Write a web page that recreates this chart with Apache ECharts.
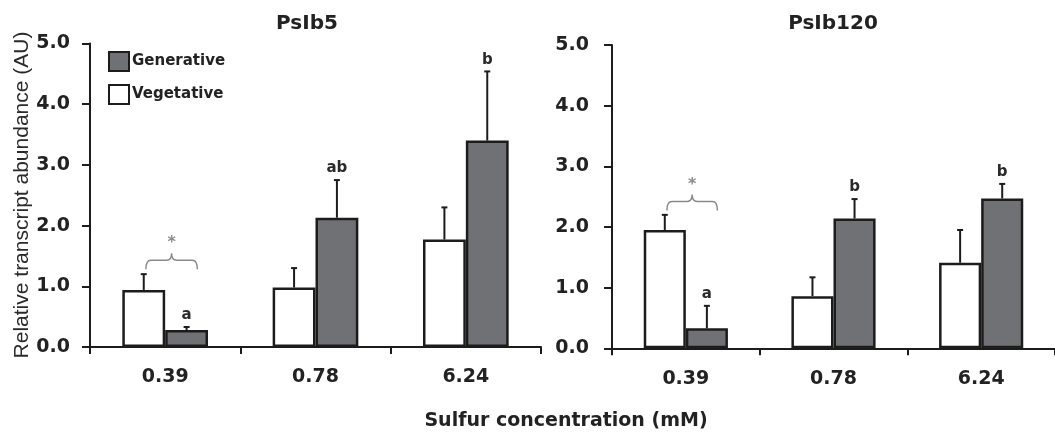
<!DOCTYPE html>
<html>
<head>
<meta charset="utf-8">
<script src="https://cdn.jsdelivr.net/npm/echarts@6/dist/echarts.min.js"></script>
<style>html,body{margin:0;padding:0;background:#fff;}#c{width:1055px;height:434px;}</style>
</head>
<body>
<div id="c"></div>
<script>
// ---- data ----
const categories = ['0.39', '0.78', '6.24'];
const panelTitles = ['PsIb5', 'PsIb120'];
const psib5Veg = [0.94, 0.98, 1.77];
const psib5VegSD = [0.26, 0.32, 0.53];
const psib5Gen = [0.28, 2.13, 3.40];
const psib5GenSD = [0.05, 0.62, 1.14];
const psib5Letters = ['a', 'ab', 'b'];
const psib120Veg = [1.95, 0.86, 1.41];
const psib120VegSD = [0.25, 0.31, 0.54];
const psib120Gen = [0.33, 2.14, 2.47];
const psib120GenSD = [0.37, 0.32, 0.24];
const psib120Letters = ['a', 'b', 'b'];
const braceCategory = [0, 0];
const braceY = [1.43, 2.42];
const yMin = 0, yMax = 5, yStep = 1;

// ---- styles ----
const GEN_COLOR = '#707174';
const EDGE = '#1c1c1c';
const GAP = 0.43;
const FONT_B = '"DejaVu Sans"';

const chart = echarts.init(document.getElementById('c'));

function barW(api) { return api.size([1, 0])[0] * (1 - GAP) / 2; }

function errSeries(gi, means, sds, side, letters) {
  return {
    type: 'custom', xAxisIndex: gi, yAxisIndex: gi, z: 5,
    data: means.map((m, i) => [i, m, m + sds[i], letters ? letters[i] : '']),
    renderItem: function (params, api) {
      const w = barW(api);
      const c = api.coord([api.value(0), api.value(1)]);
      const top = api.coord([api.value(0), api.value(2)]);
      const x = c[0] + side * w / 2;
      const children = [
        { type: 'line', shape: { x1: x, y1: c[1], x2: x, y2: top[1] }, style: { stroke: EDGE, lineWidth: 2 } },
        { type: 'line', shape: { x1: x - 3, y1: top[1], x2: x + 3, y2: top[1] }, style: { stroke: EDGE, lineWidth: 2 } }
      ];
      const lab = api.value(3);
      if (lab) {
        children.push({ type: 'text', x: x, y: top[1] - 4, style: { text: lab, align: 'center', verticalAlign: 'bottom', font: 'bold 15px ' + FONT_B, fill: '#2a2a2a' } });
      }
      return { type: 'group', children: children };
    }
  };
}

function braceSeries(gi) {
  return {
    type: 'custom', xAxisIndex: gi, yAxisIndex: gi, z: 6,
    data: [[braceCategory[gi], braceY[gi]]],
    renderItem: function (params, api) {
      const w = barW(api);
      const p = api.coord([api.value(0), api.value(1)]);
      const x1 = p[0] - 0.45 * w, x2 = p[0] + 0.75 * w, xc = (x1 + x2) / 2;
      const y = p[1], r = 5, drop = 9, up = 7;
      const path = 'M' + x1 + ' ' + (y + drop) +
        ' Q' + x1 + ' ' + y + ' ' + (x1 + r) + ' ' + y +
        ' L' + (xc - r) + ' ' + y +
        ' Q' + xc + ' ' + y + ' ' + xc + ' ' + (y - up) +
        ' Q' + xc + ' ' + y + ' ' + (xc + r) + ' ' + y +
        ' L' + (x2 - r) + ' ' + y +
        ' Q' + x2 + ' ' + y + ' ' + x2 + ' ' + (y + drop);
      return {
        type: 'group', children: [
          { type: 'path', shape: { pathData: path }, style: { stroke: '#8a8a8a', lineWidth: 1.5, fill: null } },
          { type: 'text', x: xc, y: y - 17, style: { text: '*', align: 'center', verticalAlign: 'middle', font: 'bold 16px ' + FONT_B, fill: '#8a8a8a' } }
        ]
      };
    }
  };
}

function xAxisFor(gi) {
  return {
    type: 'category', gridIndex: gi, data: categories,
    axisLine: { lineStyle: { color: EDGE, width: 2 } },
    axisTick: { show: true, interval: 0, length: 7, alignWithLabel: false, lineStyle: { color: EDGE, width: 2 } },
    axisLabel: { margin: 21, fontFamily: FONT_B, fontWeight: 'bold', fontSize: 19, color: '#222' },
    splitLine: { show: false }
  };
}
function yAxisFor(gi, margin) {
  return {
    type: 'value', gridIndex: gi, min: yMin, max: yMax, interval: yStep,
    axisLine: { show: true, lineStyle: { color: EDGE, width: 2 } },
    axisTick: { show: true, length: 8, lineStyle: { color: EDGE, width: 2 } },
    axisLabel: { margin: margin, fontFamily: FONT_B, fontWeight: 'bold', fontSize: 19, color: '#222', formatter: v => v.toFixed(1) },
    splitLine: { show: false }
  };
}
function barSeries(gi, name, vals, color) {
  return {
    type: 'bar', name: name, xAxisIndex: gi, yAxisIndex: gi, data: vals,
    barGap: '0%', barCategoryGap: (GAP * 100) + '%',
    itemStyle: { color: color, borderColor: EDGE, borderWidth: 2.5 },
    emphasis: { disabled: true }, animation: false
  };
}

const option = {
  animation: false,
  grid: [
    { left: 90, top: 43.5, width: 451, height: 303.5 },
    { left: 612, top: 45, width: 447, height: 303.3 }
  ],
  legend: {
    data: ['Generative', 'Vegetative'], orient: 'vertical', left: 108, top: 51, padding: 0,
    itemWidth: 20, itemHeight: 19, itemGap: 12, icon: 'rect',
    textStyle: { fontFamily: FONT_B, fontWeight: 'bold', fontSize: 15, color: '#222', padding: [0, 0, 0, -2] },
    selectedMode: false
  },
  xAxis: [xAxisFor(0), xAxisFor(1)],
  yAxis: [yAxisFor(0, 20), yAxisFor(1, 23)],
  series: [
    barSeries(0, 'Vegetative', psib5Veg, '#ffffff'),
    barSeries(0, 'Generative', psib5Gen, GEN_COLOR),
    barSeries(1, 'Vegetative', psib120Veg, '#ffffff'),
    barSeries(1, 'Generative', psib120Gen, GEN_COLOR),
    errSeries(0, psib5Veg, psib5VegSD, -1, null),
    errSeries(0, psib5Gen, psib5GenSD, 1, psib5Letters),
    errSeries(1, psib120Veg, psib120VegSD, -1, null),
    errSeries(1, psib120Gen, psib120GenSD, 1, psib120Letters),
    braceSeries(0),
    braceSeries(1)
  ],
  graphic: [
    { type: 'text', x: 307, y: 24, style: { text: panelTitles[0], align: 'center', verticalAlign: 'middle', font: 'bold 20px ' + FONT_B, fill: '#222' } },
    { type: 'text', x: 833, y: 24, style: { text: panelTitles[1], align: 'center', verticalAlign: 'middle', font: 'bold 20px ' + FONT_B, fill: '#222' } },
    { type: 'text', x: 22, y: 195, rotation: Math.PI / 2, style: { text: 'Relative transcript abundance (AU)', align: 'center', verticalAlign: 'middle', font: '21px "Liberation Sans"', fill: '#2a2a2a' } },
    { type: 'text', x: 566, y: 421, style: { text: 'Sulfur concentration (mM)', align: 'center', verticalAlign: 'middle', font: 'bold 19px ' + FONT_B, fill: '#222' } }
  ]
};
chart.setOption(option);
</script>
</body>
</html>
